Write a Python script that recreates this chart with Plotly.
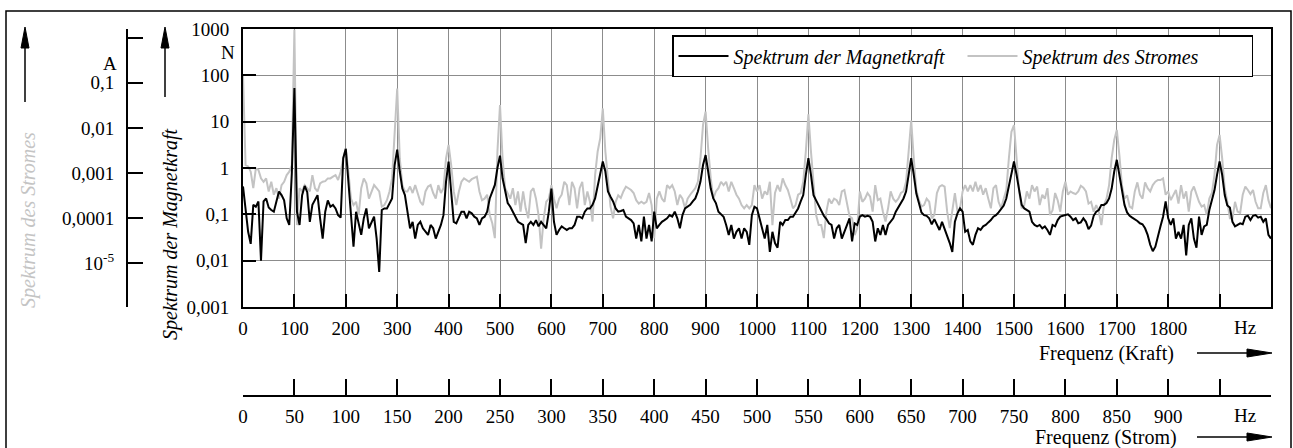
import plotly.graph_objects as go

# ---------------- data ----------------
# force spectrum (Magnetkraft), frequency bins 0..2000 Hz, step 5 Hz
kraft_freq = list(range(0, 2001, 5))
kraft_amp = [
    # 0-95
    0.40, 0.114, 0.042, 0.023, 0.16, 0.146, 0.19, 0.010, 0.19, 0.22, 0.14, 0.124, 0.114, 0.19, 0.31, 0.26, 0.20, 0.082, 0.059, 0.77,
    # 100-195
    53, 0.114, 0.059, 0.26, 0.41, 0.30, 0.069, 0.16, 0.20, 0.26, 0.082, 0.030, 0.114, 0.20, 0.146, 0.16, 0.134, 0.096, 0.085, 1.63,
    # 200-295
    2.6, 0.51, 0.114, 0.020, 0.114, 0.059, 0.036, 0.082, 0.134, 0.050, 0.069, 0.089, 0.030, 0.0057, 0.124, 0.134, 0.134, 0.175, 0.22, 1.16,
    # 300-395
    2.5, 0.84, 0.36, 0.26, 0.114, 0.050, 0.069, 0.030, 0.059, 0.069, 0.050, 0.042, 0.036, 0.059, 0.050, 0.030, 0.042, 0.059, 0.096, 0.51,
    # 400-495
    1.38, 0.31, 0.069, 0.064, 0.089, 0.114, 0.114, 0.082, 0.114, 0.105, 0.089, 0.082, 0.059, 0.082, 0.089, 0.114, 0.22, 0.31, 0.43, 1.0,
    # 500-595
    1.85, 0.60, 0.31, 0.175, 0.146, 0.114, 0.089, 0.069, 0.064, 0.059, 0.024, 0.059, 0.069, 0.059, 0.075, 0.055, 0.069, 0.059, 0.050, 0.114,
    # 600-695
    0.36, 0.069, 0.036, 0.046, 0.055, 0.050, 0.046, 0.050, 0.050, 0.059, 0.089, 0.089, 0.082, 0.114, 0.134, 0.134, 0.16, 0.22, 0.40, 0.84,
    # 700-795
    1.38, 0.84, 0.31, 0.24, 0.19, 0.134, 0.114, 0.118, 0.124, 0.089, 0.082, 0.075, 0.064, 0.030, 0.059, 0.026, 0.089, 0.030, 0.059, 0.026,
    # 800-895
    0.114, 0.050, 0.059, 0.069, 0.075, 0.082, 0.096, 0.089, 0.114, 0.082, 0.050, 0.096, 0.134, 0.146, 0.16, 0.19, 0.22, 0.31, 0.51, 1.16,
    # 900-995
    1.9, 0.84, 0.36, 0.22, 0.175, 0.114, 0.10, 0.089, 0.059, 0.036, 0.059, 0.030, 0.042, 0.050, 0.030, 0.050, 0.042, 0.022, 0.096, 0.146,
    # 1000-1095
    0.134, 0.082, 0.050, 0.030, 0.059, 0.0155, 0.042, 0.024, 0.019, 0.069, 0.059, 0.075, 0.075, 0.089, 0.089, 0.11, 0.134, 0.19, 0.26, 0.71,
    # 1100-1195
    1.63, 0.71, 0.26, 0.20, 0.155, 0.118, 0.093, 0.079, 0.064, 0.059, 0.030, 0.050, 0.059, 0.030, 0.042, 0.059, 0.082, 0.026, 0.064, 0.059,
    # 1200-1295
    0.089, 0.096, 0.089, 0.093, 0.089, 0.069, 0.026, 0.050, 0.036, 0.059, 0.036, 0.059, 0.069, 0.082, 0.114, 0.14, 0.175, 0.22, 0.31, 0.77,
    # 1300-1395
    1.63, 0.71, 0.28, 0.175, 0.11, 0.096, 0.093, 0.082, 0.061, 0.079, 0.061, 0.046, 0.069, 0.050, 0.033, 0.024, 0.0155, 0.069, 0.105, 0.134,
    # 1400-1495
    0.114, 0.042, 0.046, 0.026, 0.022, 0.036, 0.050, 0.046, 0.055, 0.059, 0.067, 0.075, 0.089, 0.096, 0.11, 0.13, 0.155, 0.22, 0.43, 0.84,
    # 1500-1595
    1.38, 0.71, 0.31, 0.16, 0.134, 0.124, 0.114, 0.069, 0.059, 0.055, 0.059, 0.050, 0.055, 0.046, 0.036, 0.059, 0.055, 0.075, 0.089, 0.093,
    # 1600-1695
    0.096, 0.10, 0.089, 0.075, 0.082, 0.064, 0.067, 0.082, 0.069, 0.048, 0.057, 0.093, 0.114, 0.124, 0.16, 0.16, 0.175, 0.22, 0.36, 0.84,
    # 1700-1795
    1.5, 0.71, 0.31, 0.16, 0.11, 0.093, 0.085, 0.079, 0.072, 0.064, 0.061, 0.050, 0.036, 0.022, 0.016, 0.020, 0.036, 0.055, 0.089, 0.19,
    # 1800-1895
    0.082, 0.059, 0.082, 0.030, 0.042, 0.030, 0.059, 0.013, 0.059, 0.082, 0.030, 0.019, 0.089, 0.036, 0.055, 0.059, 0.124, 0.19, 0.33, 0.71,
    # 1900-1995
    1.38, 0.71, 0.26, 0.155, 0.14, 0.069, 0.055, 0.059, 0.064, 0.061, 0.089, 0.093, 0.075, 0.093, 0.096, 0.085, 0.089, 0.069, 0.082, 0.036,
    # 2000
    0.030,
]

# current spectrum (Strom), frequency bins 0..1000 Hz, step 2.5 Hz
strom_freq = [k * 2.5 for k in range(401)]
strom_amp = [
    0.149, 0.0015, 0.0014, 0.00107, 0.00046, 0.00127, 0.00117, 0.00076, 0.00064, 0.00076, 0.00039, 0.00064, 0.00033, 0.00046, 0.00027, 0.00054, 0.00064, 0.00090, 0.00107, 0.0015,
    1.5, 0.00007, 0.00046, 0.00039, 0.00054, 0.00046, 0.00039, 0.00090, 0.00046, 0.00039, 0.00059, 0.00064, 0.00066, 0.00076, 0.00076, 0.00083, 0.00090, 0.00070, 0.00107, 0.0021,
    0.0035, 0.00107, 0.00027, 0.000195, 0.00023, 0.000117, 0.00046, 0.00076, 0.00059, 0.00027, 0.00039, 0.00054, 0.00046, 0.00039, 0.00018, 0.000195, 0.00025, 0.00039, 0.00076, 0.0070,
    0.075, 0.0021, 0.00054, 0.00039, 0.00039, 0.0005, 0.00036, 0.00054, 0.00033, 0.00023, 0.000195, 0.00039, 0.0005, 0.00054, 0.00036, 0.00027, 0.00054, 0.00036, 0.00046, 0.0021,
    0.0042, 0.0015, 0.00039, 0.000195, 0.00039, 0.00064, 0.00076, 0.0007, 0.00064, 0.00073, 0.00078, 0.00083, 0.00039, 0.00025, 0.00027, 0.00033, 0.000117, 0.000077, 0.000036, 0.0030,
    0.032, 0.0021, 0.00046, 0.00036, 0.00027, 0.00046, 0.000195, 0.00039, 0.000139, 0.00039, 0.000165, 0.000099, 0.00039, 0.00046, 0.00027, 0.000117, 0.000021, 0.000099, 0.00023, 0.00027,
    0.00054, 0.00027, 0.000165, 0.00027, 0.00033, 0.00064, 0.00054, 0.000195, 0.00064, 0.00046, 0.000165, 0.00046, 0.00064, 0.000195, 0.00039, 0.00023, 0.000084, 0.00090, 0.0030, 0.0059,
    0.027, 0.0030, 0.00064, 0.00018, 0.000099, 0.00023, 0.00032, 0.00028, 0.00039, 0.0005, 0.00046, 0.00042, 0.00036, 0.00025, 0.00021, 0.00023, 0.00021, 0.00023, 0.00036, 0.000195,
    0.000036, 0.00027, 0.00039, 0.00027, 0.00023, 0.00054, 0.00046, 0.00054, 0.00039, 0.000195, 0.00033, 0.00027, 0.000165, 0.00027, 0.00033, 0.00039, 0.00046, 0.00064, 0.0021, 0.0116,
    0.023, 0.0035, 0.00076, 0.00027, 0.00039, 0.00046, 0.00064, 0.00054, 0.00064, 0.00039, 0.00064, 0.00046, 0.00033, 0.00027, 0.000195, 0.000165, 0.000195, 0.000165, 0.000195, 0.00054,
    0.00039, 0.00054, 0.00027, 0.00039, 0.00033, 0.00064, 0.000070, 0.00036, 0.00054, 0.00039, 0.00076, 0.00054, 0.00042, 0.00027, 0.000165, 0.000195, 0.00033, 0.00036, 0.00064, 0.0030,
    0.020, 0.0030, 0.00054, 0.000117, 0.000070, 0.000070, 0.000036, 0.000139, 0.00027, 0.00021, 0.00027, 0.00025, 0.000195, 0.00039, 0.00042, 0.00023, 0.00011, 0.000099, 0.000042, 0.00006,
    0.00039, 0.00023, 0.00027, 0.00036, 0.0003, 0.000139, 0.00054, 0.00025, 0.00027, 0.000139, 0.000084, 0.000165, 0.00039, 0.00027, 0.00023, 0.00027, 0.00036, 0.00039, 0.00064, 0.0030,
    0.0145, 0.0021, 0.00042, 0.00025, 0.00018, 0.000195, 0.00027, 0.00023, 0.000099, 0.000117, 0.00036, 0.0005, 0.00054, 0.0005, 0.000139, 0.00006, 0.000165, 0.00036, 0.000139, 0.000165,
    0.00039, 0.00054, 0.00039, 0.00054, 0.00039, 0.00064, 0.00039, 0.00054, 0.00033, 0.00046, 0.00027, 0.000165, 0.00046, 0.00054, 0.00023, 0.000165, 0.00027, 0.00042, 0.0021, 0.0082,
    0.0116, 0.0025, 0.00039, 0.000165, 0.000195, 0.00039, 0.00027, 0.00054, 0.00039, 0.0005, 0.000195, 0.00033, 0.00027, 0.00046, 0.000117, 0.00015, 0.00036, 0.00025, 0.000139, 0.00039,
    0.00064, 0.00033, 0.00039, 0.00036, 0.00034, 0.00039, 0.00052, 0.00047, 0.00039, 0.00021, 0.00023, 0.000139, 0.000195, 0.000139, 0.00007, 0.000195, 0.00027, 0.00054, 0.0021, 0.0054,
    0.0090, 0.0025, 0.00054, 0.00027, 0.00032, 0.00018, 0.000165, 0.00039, 0.00062, 0.00033, 0.00027, 0.00062, 0.00046, 0.00039, 0.00054, 0.00064, 0.0007, 0.0007, 0.00076, 0.00033,
    0.00039, 0.00025, 0.00033, 0.00042, 0.00021, 0.00054, 0.00027, 0.00039, 0.000139, 0.00039, 0.0005, 0.00033, 0.00023, 0.00018, 0.000195, 0.000117, 0.00027, 0.00036, 0.0009, 0.0042,
    0.0070, 0.0021, 0.00046, 0.00023, 0.000099, 0.000099, 0.00023, 0.000139, 0.00013, 0.00033, 0.0005, 0.00042, 0.00034, 0.00042, 0.00023, 0.000165, 0.000165, 0.00036, 0.00054, 0.00025,
    0.000165,
]
assert len(kraft_amp) == len(kraft_freq), len(kraft_amp)
assert len(strom_amp) == len(strom_freq), len(strom_amp)

kraft_ticks = list(range(0, 2001, 100))
kraft_ticktext = [str(v) for v in range(0, 1801, 100)] + ["", ""]
strom_ticks = list(range(0, 1001, 50))
strom_ticktext = [str(v) for v in range(0, 901, 50)] + ["", ""]
kraft_yticks = [0.001, 0.01, 0.1, 1, 10, 100, 1000]
kraft_yticktext = ["0,001", "0,01", "0,1", "1", "10", "100", "1000"]
strom_yticks = [1, 0.1, 0.01, 0.001, 0.0001, 0.00001]
strom_yticktext = ["", "0,1", "0,01", "0,001", "0,0001", "10<sup>-5</sup>"]

# ---------------- layout helpers ----------------
W, H = 1293, 448
ML, MR, MT, MB = 100, 22, 29, 52
PW = W - ML - MR
PH = H - MT - MB
SERIF = "Liberation Serif"
FS = 19      # tick labels
FT = 20      # titles, legend, unit labels
GREY_TXT = "#c4c4c4"


def px(x):
    return (x - ML) / PW


def py(y):
    return (H - MB - y) / PH


fig = go.Figure()
fig.add_trace(go.Scatter(
    x=strom_freq, y=strom_amp, xaxis="x", yaxis="y", mode="lines",
    line=dict(color="#c3c3c3", width=2), name="<i>Spektrum des Stromes</i>", legendrank=2,
))
fig.add_trace(go.Scatter(
    x=kraft_freq, y=kraft_amp, xaxis="x2", yaxis="y2", mode="lines",
    line=dict(color="black", width=2), name="<i>Spektrum der Magnetkraft</i>", legendrank=1,
))

tickfont = dict(family=SERIF, size=FS, color="black")
fig.update_layout(
    width=W, height=H,
    margin=dict(l=ML, r=MR, t=MT, b=MB, pad=0, autoexpand=False),
    paper_bgcolor="white", plot_bgcolor="white",
    font=dict(family=SERIF, size=FS, color="black"),
    showlegend=True,
    legend=dict(
        orientation="h", x=px(672), y=py(35), xanchor="left", yanchor="top",
        bgcolor="white", bordercolor="black", borderwidth=1.5,
        font=dict(family=SERIF, size=FT, color="black"), itemwidth=50,
        entrywidth=224,
    ),
    xaxis=dict(
        domain=[px(243), 1], anchor="free", position=0, range=[0, 1000],
        tickmode="array", tickvals=strom_ticks, ticktext=strom_ticktext,
        ticks="inside", ticklen=16, tickwidth=1.5, tickcolor="black",
        showline=True, linewidth=2, linecolor="black", showgrid=False, zeroline=False,
        tickfont=tickfont, ticklabelstandoff=3,
    ),
    yaxis=dict(
        domain=[py(307), 1], anchor="free", position=px(127), type="log",
        range=[-5.971, 0.193], tickmode="array", tickvals=strom_yticks, ticktext=strom_yticktext,
        ticks="inside", ticklen=15, tickwidth=1.5, tickcolor="black",
        showline=True, linewidth=2, linecolor="black", showgrid=False, zeroline=False,
        tickfont=tickfont, ticklabelstandoff=8,
    ),
    xaxis2=dict(
        overlaying="x", anchor="y2", range=[0, 2000],
        tickmode="array", tickvals=kraft_ticks, ticktext=kraft_ticktext,
        ticks="inside", ticklen=13, tickwidth=1.5, tickcolor="black",
        showgrid=True, gridcolor="#8c8c8c", gridwidth=1,
        showline=True, mirror=True, linewidth=2, linecolor="black", zeroline=False,
        tickfont=tickfont, ticklabelstandoff=3,
    ),
    yaxis2=dict(
        overlaying="y", anchor="x2", side="left", type="log", range=[-3, 3],
        tickmode="array", tickvals=kraft_yticks, ticktext=kraft_yticktext,
        ticks="inside", ticklen=13, tickwidth=1.5, tickcolor="black",
        showgrid=True, gridcolor="#8c8c8c", gridwidth=1,
        showline=True, mirror=True, linewidth=2, linecolor="black", zeroline=False,
        tickfont=tickfont, ticklabelstandoff=8,
    ),
)

ann = [
    dict(text="A", x=px(110), y=py(63)),
    dict(text="N", x=px(228), y=py(53)),
    dict(text="Hz", x=px(1245), y=py(327)),
    dict(text="Hz", x=px(1245), y=py(416)),
    dict(text="Frequenz (Kraft)", x=px(1106), y=py(353), font=dict(family=SERIF, size=FT, color="black")),
    dict(text="Frequenz (Strom)", x=px(1106), y=py(437), font=dict(family=SERIF, size=FT, color="black")),
    dict(text="<i>Spektrum des Stromes</i>", x=px(28), y=py(220), textangle=-90,
         font=dict(family=SERIF, size=FT, color=GREY_TXT)),
    dict(text="<i>Spektrum der Magnetkraft</i>", x=px(171), y=py(234), textangle=-90,
         font=dict(family=SERIF, size=FT, color="black")),
]
for a in ann:
    a.setdefault("font", dict(family=SERIF, size=FS, color="black"))
    fig.add_annotation(xref="paper", yref="paper", showarrow=False,
                       xanchor="center", yanchor="middle", **a)

shapes = []


def line(x0, y0, x1, y1, w=1.5):
    shapes.append(dict(type="line", xref="paper", yref="paper",
                       x0=px(x0), y0=py(y0), x1=px(x1), y1=py(y1),
                       line=dict(color="black", width=w)))


def tri(points):
    d = "M " + " L ".join(f"{px(a)},{py(b)}" for a, b in points) + " Z"
    shapes.append(dict(type="path", xref="paper", yref="paper", path=d,
                       fillcolor="black", line=dict(color="black", width=1)))


# vertical arrows (y axes)
for ax_x, y_bot in ((25, 102), (165, 97)):
    line(ax_x, y_bot, ax_x, 44)
    tri([(ax_x, 27), (ax_x - 4, 48), (ax_x + 4, 48)])
# horizontal arrows (x axes)
for ay in (353, 437):
    line(1197, ay, 1250, ay)
    tri([(1272, ay), (1247, ay - 4), (1247, ay + 4)])
# outer frame
shapes.append(dict(type="rect", xref="paper", yref="paper",
                   x0=px(6), x1=px(1291), y0=py(11), y1=py(470),
                   line=dict(color="black", width=1.5), fillcolor="rgba(0,0,0,0)"))
fig.update_layout(shapes=shapes)

fig.write_html("out.html", config={"displayModeBar": False},
               post_script="document.body.style.margin='0';document.body.style.overflow='hidden';")
